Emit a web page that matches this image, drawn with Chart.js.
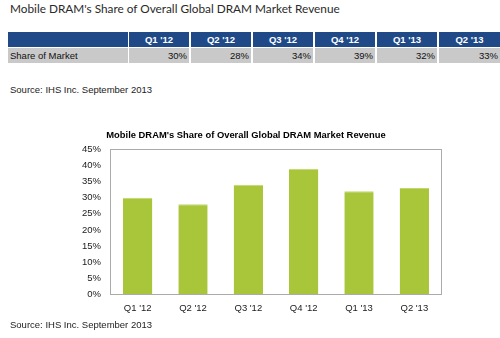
<!DOCTYPE html>
<html>
<head>
<meta charset="utf-8">
<script src="https://cdn.jsdelivr.net/npm/chart.js@4/dist/chart.umd.min.js"></script>
<style>
  html, body { margin: 0; padding: 0; background: #fff; }
  body { width: 500px; height: 338px; position: relative; overflow: hidden; font-family: Arial, "Liberation Sans", sans-serif; color: #1a1a1a; }
  .title { position: absolute; left: 10px; top: 1px; font-family: Lato, "Open Sans", sans-serif; font-size: 11.8px; color: #2a2a2a; white-space: nowrap; }
  .cell { position: absolute; height: 15px; line-height: 15px; font-size: 9.5px; white-space: nowrap; box-sizing: border-box; }
  .head { background: #204a87; color: #fff; font-weight: bold; text-align: center; }
  .row { background: #c9c9c9; color: #111; text-align: right; padding-right: 2px; }
  .row.first { text-align: left; padding-left: 2px; }
  .source { position: absolute; left: 10px; font-size: 9.5px; color: #222; white-space: nowrap; }
  #wrap { position: absolute; left: 50px; top: 122px; width: 394px; height: 200px; }
</style>
</head>
<body>
<div class="title">Mobile DRAM's Share of Overall Global DRAM Market Revenue</div>
<div id="table"></div>
<div class="source" style="top:84px">Source: IHS Inc. September 2013</div>
<div id="wrap"><canvas id="chart"></canvas></div>
<div class="source" style="top:319px">Source: IHS Inc. September 2013</div>

<script>
// quarterly share of total DRAM revenue taken by mobile DRAM
const quarters = ["Q1 '12", "Q2 '12", "Q3 '12", "Q4 '12", "Q1 '13", "Q2 '13"];
const shareOfMarket = [30, 28, 34, 39, 32, 33];
const rowLabel = 'Share of Market';
const chartTitle = "Mobile DRAM's Share of Overall Global DRAM Market Revenue";

// ── summary table above the chart ──
function buildTable() {
  const t = document.getElementById('table');
  const firstW = 120, colW = 60, gap = 2, x0 = 8;
  const add = (cls, left, top, width, text) => {
    const d = document.createElement('div');
    d.className = 'cell ' + cls;
    d.style.left = left + 'px';
    d.style.top = top + 'px';
    d.style.width = width + 'px';
    d.textContent = text;
    t.appendChild(d);
  };
  add('head', x0, 32, firstW, '');
  add('row first', x0, 48, firstW, rowLabel);
  quarters.forEach((q, i) => {
    const left = x0 + firstW + gap - 1 + i * (colW + gap);
    const w = i === quarters.length - 1 ? 500 - left : colW;
    add('head', left, 32, w, q);
    add('row', left, 48, w, shareOfMarket[i] + '%');
  });
}
buildTable();

// draws the box round the plot area
const plotFrame = {
  id: 'plotFrame',
  afterDraw(chart) {
    const { ctx, chartArea: a } = chart;
    ctx.save();
    ctx.strokeStyle = '#ababab';
    ctx.lineWidth = 1;
    ctx.strokeRect(Math.round(a.left) + 0.5, Math.round(a.top) + 0.5, Math.round(a.right - a.left) - 1, Math.round(a.bottom - a.top));
    ctx.restore();
  }
};

const tickFont = { family: 'Arial, "Liberation Sans"', size: 9.5 };

new Chart(document.getElementById('chart'), {
  type: 'bar',
  data: {
    labels: quarters,
    datasets: [{
      data: shareOfMarket,
      backgroundColor: '#a9c63b',
      borderColor: '#c2d76f',
      borderWidth: { top: 1, left: 0, right: 0, bottom: 0 },
      borderSkipped: 'bottom',
      categoryPercentage: 1,
      barPercentage: 0.53,
    }]
  },
  options: {
    responsive: true,
    maintainAspectRatio: false,
    animation: false,
    layout: { padding: { left: 0, right: 2, top: 0, bottom: 0 } },
    plugins: {
      legend: { display: false },
      tooltip: { enabled: false },
      title: {
        display: true,
        text: chartTitle,
        color: '#000',
        font: { family: 'Arial, "Liberation Sans"', size: 9.4, weight: 'bold' },
        padding: { top: 8, bottom: 8 },
      },
    },
    scales: {
      x: {
        grid: { display: false, drawTicks: false },
        border: { display: false },
        ticks: { color: '#1a1a1a', font: tickFont, padding: 8, maxRotation: 0 },
      },
      y: {
        min: 0,
        max: 45,
        grid: { display: false, drawTicks: false },
        border: { display: false },
        ticks: { stepSize: 5, color: '#1a1a1a', font: tickFont, padding: 9, callback: v => v + '%' },
        afterFit(scale) { scale.width = 60; },
      },
    },
  },
  plugins: [plotFrame],
});
</script>
</body>
</html>
